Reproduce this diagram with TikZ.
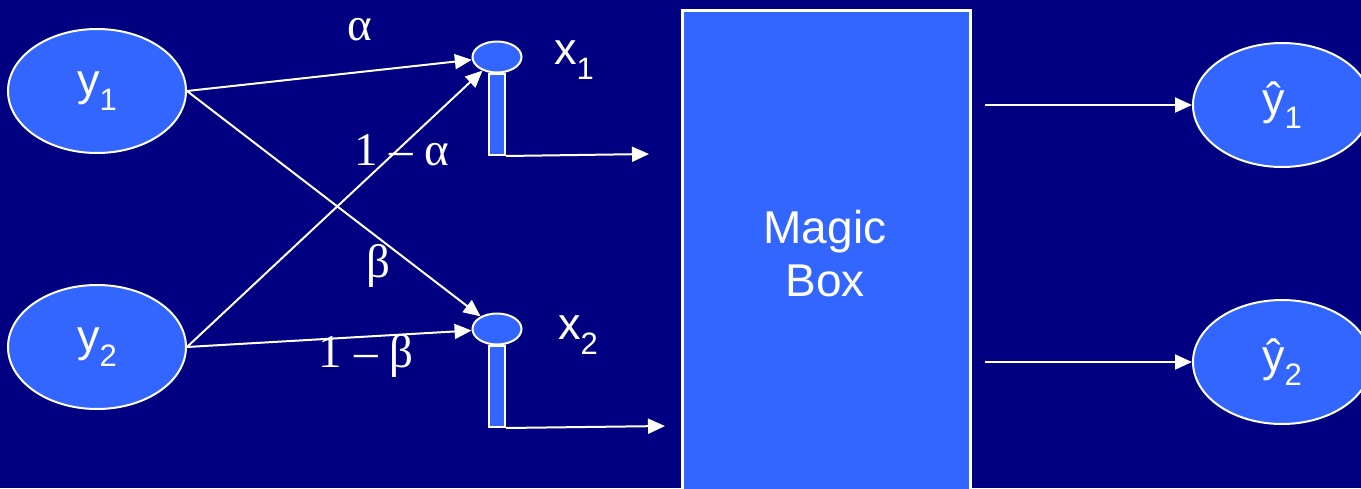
\documentclass[tikz,border=0pt]{standalone}
\usepackage{fontspec}
\setmainfont{Liberation Sans}
\newfontfamily\greekserif{Liberation Serif}
\usetikzlibrary{shapes.geometric,arrows.meta}
\definecolor{navy}{HTML}{000080}
\definecolor{boxblue}{HTML}{3366FF}
\newcommand{\sub}[1]{\raisebox{-0.32em}{\fontsize{31}{31}\selectfont #1}}
\tikzset{
  bigvar/.style={ellipse, draw=white, line width=2pt, fill=boxblue,
    minimum width=178pt, minimum height=124pt, inner sep=0pt,
    text=white, font=\fontsize{45}{50}\selectfont},
  knob/.style={ellipse, draw=white, line width=2pt, fill=boxblue,
    minimum width=49pt, minimum height=31pt, inner sep=0pt},
  stem/.style={rectangle, draw=white, line width=2pt, fill=boxblue,
    minimum width=16pt, minimum height=81pt, inner sep=0pt},
  wire/.style={draw=white, line width=2pt,
    -{Triangle[length=17pt,width=15pt]}},
  lbl/.style={text=white, font=\fontsize{45}{50}\selectfont, inner sep=0pt},
  glbl/.style={text=white, font=\greekserif\fontsize{47}{50}\selectfont, inner sep=0pt}
}
\begin{document}
\begin{tikzpicture}[x=1pt,y=-1pt]
  \fill[navy] (0,0) rectangle (1361,488);
  \useasboundingbox (0,0) rectangle (1361,488);
  \clip (0,0) rectangle (1361,488);

  % processing block
  \node[rectangle, draw=white, line width=3pt, fill=boxblue, inner sep=0pt,
        minimum width=288pt, minimum height=500pt, anchor=north west]
        (box) at (681,9) {};
  \node[lbl, align=center, font=\fontsize{46}{53}\selectfont] (boxtxt) at (825,254) {Magic\\Box};

  % inputs
  \node[bigvar] (y1) at (97,91) {y\sub{1}};
  \node[bigvar] (y2) at (97,347) {y\sub{2}};

  % mixed signals with their stems
  \node[stem, anchor=north] (s1) at (497,73) {};
  \node[stem, anchor=north] (s2) at (497,345) {};
  \node[knob] (x1) at (497,57) {};
  \node[knob] (x2) at (497,329) {};
  \node[lbl] (x1t) at (574,60) {x\sub{1}};
  \node[lbl] (x2t) at (578,335) {x\sub{2}};

  % outputs
  \node[bigvar] (h1) at (1282,105) {ŷ\sub{1}};
  \node[bigvar] (h2) at (1282,362) {ŷ\sub{2}};

  % mixing weights
  \draw[wire] (y1.east) -- (x1);
  \draw[wire] (y1.east) -- (x2);
  \draw[wire] (y2.east) -- (x1);
  \draw[wire] (y2.east) -- (x2);
  \node[glbl] (la) at (360,30) {α};
  \node[glbl] (l1a) at (402,150) {1 – α};
  \node[glbl] (lb) at (378,266) {β};
  \node[glbl] (l1b) at (366,356) {1 – β};

  % feeds into the block
  \coordinate (in1) at (649,154);
  \coordinate (in2) at (665,426);
  \draw[wire] (s1.south east) -- (in1);
  \draw[wire] (s2.south east) -- (in2);

  % block outputs
  \coordinate (o1) at (985,105);
  \coordinate (o2) at (985,362);
  \draw[wire] (o1) -- (h1);
  \draw[wire] (o2) -- (h2);
\end{tikzpicture}
\end{document}
